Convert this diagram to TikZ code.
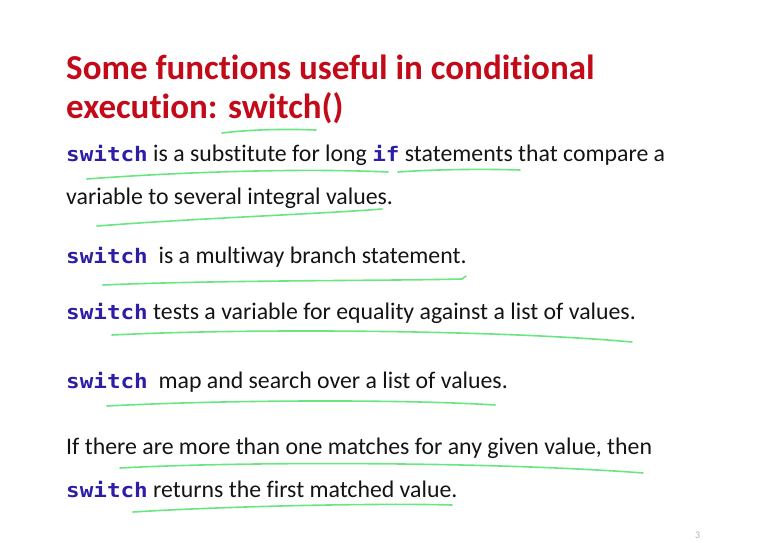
\documentclass[tikz,border=0pt]{standalone}
\usepackage{xcolor}
\usepackage{fontspec}
\usepackage{tikz}
\setmainfont[Ligatures=NoCommon]{Carlito}
\newfontfamily\codefont[FakeStretch=1.13]{DejaVu Sans Mono Bold}
\definecolor{titlered}{RGB}{195, 10, 25}
\definecolor{codeblue}{RGB}{45, 30, 165}
\definecolor{pengreen}{RGB}{105, 230, 130}
\definecolor{ink}{RGB}{20, 20, 20}
\tikzstyle{every node}=[inner sep=0pt,anchor=base west]
\tikzstyle{titletext}=[text=titlered,font=\fontsize{35}{40}\selectfont\bfseries]
\tikzstyle{bodytext}=[text=ink,font=\fontsize{23.8}{28}\selectfont]
\tikzstyle{pen}=[draw=pengreen,line width=1.6pt,line cap=round]
\newcommand{\kw}[1]{{\codefont\fontsize{20}{24}\selectfont\color{codeblue}#1}}
\begin{document}
\begin{tikzpicture}[x=1pt,y=-1pt]
\useasboundingbox (0,0) rectangle (764,542);
  \node[titletext] (title1)
     at (66, 79) {Some functions useful in conditional};
  \node[titletext] (title2)
     at (66, 118) {execution: switch()};
  \node[bodytext] (line1)
     at (66, 161) {\kw{switch} is a substitute for long \kw{if} statements that compare a};
  \node[bodytext] (line2)
     at (66, 204) {variable to several integral values.};
  \node[bodytext] (line3)
     at (66, 263) {\kw{switch}\ \ is a multiway branch statement.};
  \node[bodytext] (line4)
     at (66, 319) {\kw{switch} tests a variable for equality against a list of values.};
  \node[bodytext] (line5)
     at (66, 388) {\kw{switch}\ \ map and search over a list of values.};
  \node[bodytext] (line6)
     at (66, 454) {If there are more than one matches for any given value, then};
  \node[bodytext] (line7)
     at (66, 497) {\kw{switch} returns the first matched value.};
  \node[text=black!30,font=\fontsize{10}{12}\selectfont] (pagenum)
     at (695, 538) {3};
% green pen strokes
  \draw[pen] (222, 133) .. controls (255, 129) and (290, 129) .. (316, 130);
  \draw[pen] (87, 179) .. controls (180, 172) and (300, 168) .. (388, 172);
  \draw[pen] (398, 172) .. controls (440, 169) and (490, 169) .. (520, 170);
  \draw[pen] (97, 226) .. controls (200, 218) and (320, 214) .. (382, 209);
  \draw[pen] (103, 285) .. controls (220, 280) and (380, 281) .. (462, 279)
     -- (466, 276);
  \draw[pen] (112, 335) .. controls (250, 328) and (500, 330) .. (632, 342);
  \draw[pen] (107, 406) .. controls (220, 400) and (400, 399) .. (495, 405);
  \draw[pen] (120, 468) .. controls (250, 461) and (500, 462) .. (643, 473);
  \draw[pen] (133, 512) .. controls (230, 506) and (380, 503) .. (452, 505);
\end{tikzpicture}
\end{document}
